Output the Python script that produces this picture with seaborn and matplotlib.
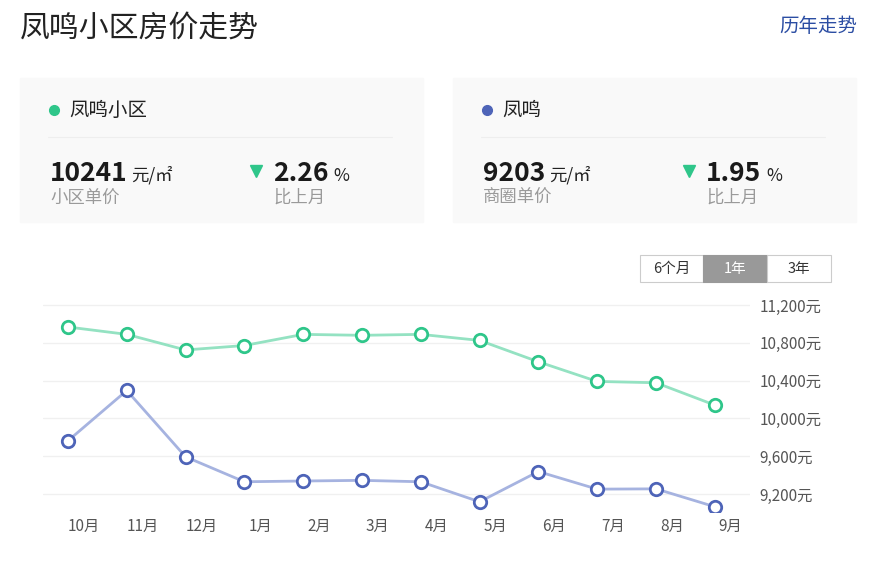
import matplotlib
matplotlib.use('Agg')
import matplotlib.pyplot as plt
from matplotlib.patches import Rectangle
import pandas as pd
import seaborn as sns

###########################################################################################
# data

months = ['10月', '11月', '12月', '1月', '2月', '3月', '4月', '5月', '6月', '7月', '8月', '9月']
community_prices = [10968, 10890, 10725, 10772, 10890, 10880, 10890, 10826, 10600, 10392, 10378, 10142]
district_prices = [9764, 10296, 9594, 9330, 9338, 9345, 9330, 9118, 9438, 9252, 9255, 9066]
series_names = ['凤鸣小区', '凤鸣']
card_prices = ['10241', '9203']
card_price_labels = ['小区单价', '商圈单价']
card_changes = ['2.26', '1.95']
y_ticks = [9200, 9600, 10000, 10400, 10800, 11200]
range_buttons = ['6个月', '1年', '3年']

###########################################################################################
# styling

sns.set_theme(style='white')
plt.rcParams['font.family'] = ['Noto Sans CJK SC', 'DejaVu Sans']

W, H = 895, 561
GREEN = '#2fc68a'
GREEN_LINE = '#94e2c2'
BLUE = '#4e64b8'
BLUE_LINE = '#a6b3e0'


def fx(px):
    return px / W


def fy(py):
    return 1 - py / H


fig = plt.figure(figsize=(W / 100, H / 100), dpi=100)
renderer = fig.canvas.get_renderer()

# title and link
fig.text(fx(20), fy(28), '凤鸣小区房价走势', fontsize=21.5, color='#222222', va='center')
fig.text(fx(857), fy(26), '历年走势', fontsize=14, color='#2b4da3', va='center', ha='right')

# summary cards
dot_colors = [GREEN, BLUE]
for i in range(2):
    off = 433 * i
    fig.patches.append(Rectangle((fx(20 + off), fy(222)), 403 / W, 144 / H,
                                 transform=fig.transFigure, color='#f9f9f9', zorder=0))
    fig.add_artist(plt.Line2D([fx(48 + off), fx(392 + off)], [fy(137), fy(137)],
                              transform=fig.transFigure, color='#eeeeee', lw=0.8))
    fig.add_artist(plt.Line2D([fx(54 + off)], [fy(110)], transform=fig.transFigure,
                              marker='o', ms=7, color=dot_colors[i], lw=0))
    fig.text(fx(69 + off), fy(110), series_names[i], fontsize=14, color='#222222', va='center')

    t = fig.text(fx(50 + off), fy(181), card_prices[i], fontsize=19, weight='bold',
                 color='#1a1a1a', va='baseline')
    bb = t.get_window_extent(renderer)
    fig.text(bb.x1 / W + fx(4), fy(181), '元/㎡', fontsize=12.5, color='#222222', va='baseline')
    fig.text(fx(50 + off), fy(198), card_price_labels[i], fontsize=12.5, color='#9a9a9a', va='center')

    fig.add_artist(plt.Line2D([fx(256 + off)], [fy(171)], transform=fig.transFigure,
                              marker='v', ms=8, color=GREEN, lw=0))
    t = fig.text(fx(273 + off), fy(181), card_changes[i], fontsize=19, weight='bold',
                 color='#1a1a1a', va='baseline')
    bb = t.get_window_extent(renderer)
    fig.text(bb.x1 / W + fx(5), fy(181), '%', fontsize=12.5, color='#222222', va='baseline')
    fig.text(fx(273 + off), fy(198), '比上月', fontsize=12.5, color='#9a9a9a', va='center')

# range buttons
btn_edges = [640, 703, 767, 831]
for j, label in enumerate(range_buttons):
    active = label == '1年'
    fig.patches.append(Rectangle((fx(btn_edges[j]), fy(281.5)), (btn_edges[j + 1] - btn_edges[j]) / W,
                                 26 / H, transform=fig.transFigure,
                                 facecolor='#999999' if active else 'white',
                                 edgecolor='#999999' if active else '#cccccc', lw=0.8))
    fig.text(fx((btn_edges[j] + btn_edges[j + 1]) / 2), fy(268.5), label, fontsize=10.5,
             color='white' if active else '#333333', ha='center', va='center')

###########################################################################################
# line chart

df = pd.DataFrame({
    'idx': list(range(len(months))) * 2,
    'price': community_prices + district_prices,
    'series': [series_names[0]] * len(months) + [series_names[1]] * len(months),
})

ax = fig.add_axes([fx(43), fy(512), (750 - 43) / W, (512 - 303) / H])
sns.lineplot(data=df, x='idx', y='price', hue='series', palette=[GREEN_LINE, BLUE_LINE],
             lw=2, legend=False, ax=ax)
for name, edge in zip(series_names, [GREEN, BLUE]):
    sns.scatterplot(data=df[df['series'] == name], x='idx', y='price', s=80, color='white',
                    edgecolor=edge, linewidth=2, zorder=5, legend=False, ax=ax)

ax.set_xlim(-0.425, 11.6)
ax.set_ylim(9010, 11222)
ax.set_yticks(y_ticks)
ax.set_yticklabels([f'{v:,}元' for v in y_ticks])
ax.yaxis.tick_right()
# month labels sit a little right of their points, as in the reference
ax.set_xticks([i + 0.27 for i in range(len(months))])
ax.set_xticklabels(months)
ax.tick_params(axis='both', length=0, labelsize=11, labelcolor='#555555')
ax.tick_params(axis='y', pad=7)
ax.tick_params(axis='x', pad=4)
ax.grid(axis='y', color='#f0f0f0', lw=1)
ax.grid(axis='x', visible=False)
for s in ax.spines.values():
    s.set_visible(False)
ax.set_xlabel('')
ax.set_ylabel('')

fig.savefig('out.png', dpi=100)
